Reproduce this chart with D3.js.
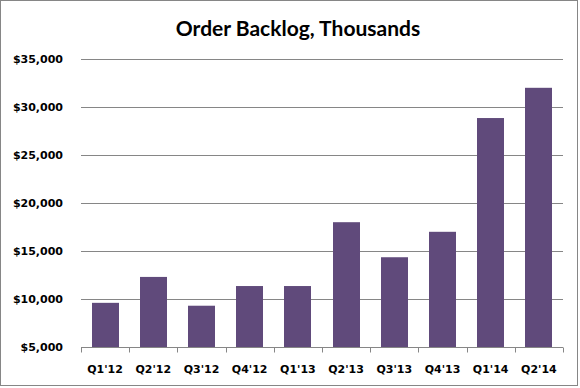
<!DOCTYPE html>
<html>
<head>
<meta charset="utf-8">
<script src="https://cdn.jsdelivr.net/npm/d3@7"></script>
<style>
  html, body { margin: 0; padding: 0; background: #fff; }
  svg { display: block; }
</style>
</head>
<body>
<div id="chart"></div>
<script>
// Quarterly order backlog (thousands of dollars)
const quarters = ["Q1'12", "Q2'12", "Q3'12", "Q4'12", "Q1'13", "Q2'13", "Q3'13", "Q4'13", "Q1'14", "Q2'14"];
const backlog = [9600, 12300, 9300, 11350, 11350, 18000, 14350, 17000, 28850, 32000];
const yTicks = [5000, 10000, 15000, 20000, 25000, 30000, 35000];

const width = 580, height = 388;
const margin = { top: 59, right: 16, bottom: 41, left: 81 };

const svg = d3.select('#chart')
    .append('svg')
    .attr('width', width)
    .attr('height', height);

// Chart border
svg.append('rect')
    .attr('x', 0.5).attr('y', 0.5)
    .attr('width', width - 3).attr('height', height - 3)
    .attr('fill', '#fff')
    .attr('stroke', '#868686');

const x = d3.scaleBand()
    .domain(quarters)
    .range([margin.left, width - margin.right - 1])
    .paddingInner(0.44)
    .paddingOuter(0.22);

const y = d3.scaleLinear()
    .domain([5000, 35000])
    .range([height - margin.bottom, margin.top]);

// Gridlines
svg.append('g')
    .selectAll('line')
    .data(yTicks.slice(1))
    .join('line')
    .attr('x1', margin.left)
    .attr('x2', width - margin.right - 1)
    .attr('y1', d => Math.round(y(d)) + 0.5)
    .attr('y2', d => Math.round(y(d)) + 0.5)
    .attr('stroke', '#868686');

// Y labels
const fmt = d3.format(',');
svg.append('g')
    .selectAll('text')
    .data(yTicks)
    .join('text')
    .attr('x', margin.left - 18)
    .attr('y', d => y(d) + 4)
    .attr('text-anchor', 'end')
    .style('font-family', '"DejaVu Sans", Verdana, sans-serif')
    .style('font-weight', 'bold')
    .style('font-size', '11px')
    .text(d => '$' + fmt(d));

// Bars
svg.append('g')
    .selectAll('rect')
    .data(quarters.map((q, i) => ({ q, v: backlog[i] })))
    .join('rect')
    .attr('x', d => Math.round(x(d.q)))
    .attr('width', Math.round(x.bandwidth()))
    .attr('y', d => y(d.v))
    .attr('height', d => y(5000) - y(d.v))
    .attr('fill', '#604A7B');

// X axis with ticks between categories
const xAxis = svg.append('g')
    .attr('transform', `translate(0,${Math.round(y(5000)) + 0.5})`);

xAxis.append('line')
    .attr('x1', margin.left).attr('x2', width - margin.right - 1)
    .attr('stroke', '#868686');

const step = x.step();
xAxis.selectAll('line.tick')
    .data(d3.range(quarters.length + 1))
    .join('line')
    .attr('class', 'tick')
    .attr('x1', i => Math.round(margin.left + i * ((width - margin.right - 1 - margin.left) / quarters.length)) + 0.5)
    .attr('x2', i => Math.round(margin.left + i * ((width - margin.right - 1 - margin.left) / quarters.length)) + 0.5)
    .attr('y1', 0).attr('y2', 5)
    .attr('stroke', '#868686');

xAxis.selectAll('text')
    .data(quarters)
    .join('text')
    .attr('x', d => x(d) + x.bandwidth() / 2)
    .attr('y', 25)
    .attr('text-anchor', 'middle')
    .style('font-family', '"DejaVu Sans", Verdana, sans-serif')
    .style('font-weight', 'bold')
    .style('font-size', '11px')
    .text(d => d);

// Title
svg.append('text')
    .attr('x', 298)
    .attr('y', 36)
    .attr('text-anchor', 'middle')
    .style('font-family', 'Lato, "Open Sans", sans-serif')
    .style('font-weight', 'bold')
    .style('font-size', '21px')
    .text('Order Backlog, Thousands');
</script>
</body>
</html>
